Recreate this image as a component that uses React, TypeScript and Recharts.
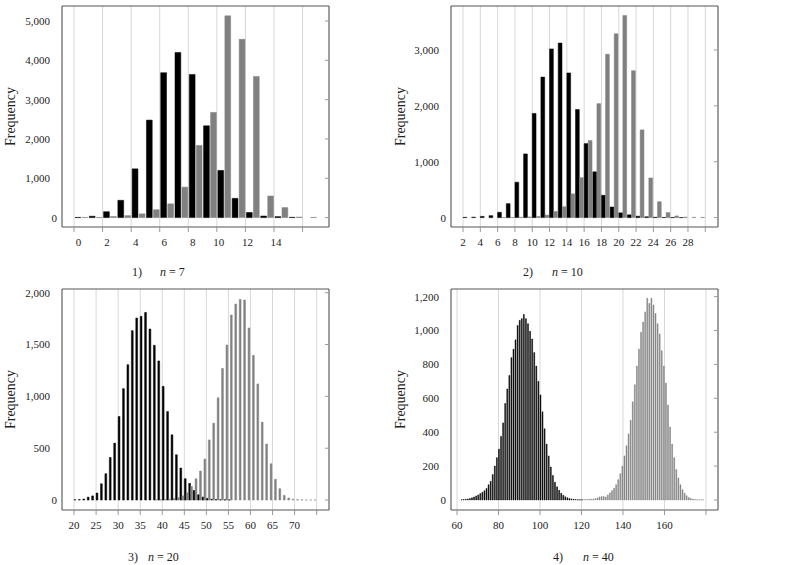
import React from 'react'
import { BarChart, Bar, XAxis, YAxis, CartesianGrid } from 'recharts'

const FONT = '"Liberation Serif", "DejaVu Serif", serif'
const FRAME = '#555'
const GRID = '#d8d8d8'
const INK = '#222'

// 1) n = 7 : frequency per bin, black and gray samples
const black7Start = 0
const black7 = [5, 35, 150, 440, 1240, 2480, 3685, 4200, 3640, 2335, 1200, 490, 130, 40, 25, 8, 0]
const gray7Start = 0
const gray7 = [5, 5, 30, 50, 95, 200, 350, 775, 1835, 2675, 5130, 4535, 3590, 550, 255, 15, 5]
const xTicks7 = [0, 2, 4, 6, 8, 10, 12, 14, 16]
const xLabels7 = [0, 2, 4, 6, 8, 10, 12, 14]
const yTicks7 = [0, 1000, 2000, 3000, 4000, 5000]

// 2) n = 10
const black10Start = 2
const black10 = [5, 8, 22, 35, 95, 250, 635, 1140, 1865, 2515, 3020, 3125, 2590, 1935, 1325, 820, 400, 190, 85, 50, 25, 15, 6, 3, 2, 1]
const gray10Start = 6
const gray10 = [2, 4, 6, 12, 20, 45, 110, 195, 425, 715, 1380, 2040, 2925, 3290, 3620, 2630, 1570, 710, 285, 90, 30, 10, 5, 3]
const xTicks10 = [2, 4, 6, 8, 10, 12, 14, 16, 18, 20, 22, 24, 26, 28, 30]
const xLabels10 = [2, 4, 6, 8, 10, 12, 14, 16, 18, 20, 22, 24, 26, 28]
const yTicks10 = [0, 1000, 2000, 3000]

// 3) n = 20
const black20Start = 20
const black20 = [3, 5, 10, 28, 40, 68, 157, 254, 411, 549, 806, 1075, 1306, 1634, 1756, 1772, 1810, 1650, 1493, 1342, 1097, 854, 629, 437, 309, 206, 161, 93, 51, 29, 16, 8, 5, 3, 2, 1]
const gray20Start = 38
const gray20 = [2, 3, 5, 8, 15, 25, 40, 70, 130, 205, 280, 395, 580, 742, 986, 1270, 1496, 1785, 1891, 1936, 1930, 1660, 1396, 1120, 752, 540, 350, 200, 110, 45, 20, 8, 4, 2, 1, 1, 1]
const xTicks20 = [20, 25, 30, 35, 40, 45, 50, 55, 60, 65, 70, 75]
const xLabels20 = [20, 25, 30, 35, 40, 45, 50, 55, 60, 65, 70]
const yTicks20 = [0, 500, 1000, 1500, 2000]

// 4) n = 40
const black40Start = 62
const black40 = [2, 3, 4, 6, 9, 13, 18, 24, 30, 38, 46, 55, 68, 90, 110, 150, 200, 250, 300, 375, 455, 570, 655, 735, 840, 890, 945, 1030, 1060, 1070, 1095, 1070, 1040, 995, 950, 870, 790, 700, 620, 520, 420, 330, 260, 195, 145, 105, 78, 58, 40, 28, 19, 13, 9, 6, 4, 3, 2, 1, 1]
const gray40Start = 118
const gray40 = [1, 2, 2, 3, 3, 4, 5, 6, 8, 12, 18, 20, 20, 18, 30, 42, 55, 70, 90, 120, 155, 200, 260, 320, 390, 470, 580, 680, 790, 890, 990, 1050, 1110, 1190, 1160, 1190, 1150, 1100, 1040, 980, 880, 790, 690, 560, 430, 330, 250, 180, 130, 90, 60, 40, 25, 15, 9, 5, 3, 2, 1, 1, 1]
const xTicks40 = [60, 80, 100, 120, 140, 160, 180]
const xLabels40 = [60, 80, 100, 120, 140, 160]
const yTicks40 = [0, 200, 400, 600, 800, 1000, 1200]

// one row per bin [b, b+1), placed at the bin centre
function buildRows(blackStart: number, black: number[], grayStart: number, gray: number[]) {
  const lo = Math.min(blackStart, grayStart)
  const hi = Math.max(blackStart + black.length, grayStart + gray.length)
  const rows = []
  for (let b = lo; b < hi; b++) {
    rows.push({
      bin: b + 0.5,
      black: black[b - blackStart] ?? 0,
      gray: gray[b - grayStart] ?? 0,
    })
  }
  return rows
}

const YTick = (props: any) => {
  const { x, y, payload } = props
  const v = payload.value as number
  return (
    <text x={v === 0 ? x - 5 : x - 12} y={y} dy="0.355em" textAnchor="end" fontSize={11} fill={INK} fontFamily={FONT}>
      {v.toLocaleString('en-US')}
    </text>
  )
}

const makeXTick = (labels: number[], shift: (v: number) => number) => (props: any) => {
  const { x, y, payload } = props
  const v = payload.value as number
  if (!labels.includes(v)) return <g />
  return (
    <text x={x + shift(v)} y={y} dy="0.71em" textAnchor="middle" fontSize={11} fill={INK} fontFamily={FONT}>
      {v}
    </text>
  )
}

const noTick = () => <g />

interface PanelProps {
  rows: { bin: number; black: number; gray: number }[]
  left: number
  top: number
  plotTop: number
  yWidth: number
  right: number
  xDomain: [number, number]
  yDomain: [number, number]
  xTicks: number[]
  xLabels: number[]
  yTicks: number[]
  barSize: number
  barGap: number
  shift?: (v: number) => number
}

function Panel(p: PanelProps) {
  const xTick = makeXTick(p.xLabels, p.shift ?? (() => 0))
  // top axis is 1px high and right axis 1px wide, they only draw the frame
  return (
    <div style={{ position: 'absolute', left: p.left, top: p.top }}>
      <BarChart
        width={340}
        height={260}
        data={p.rows}
        margin={{ top: p.plotTop - 1, right: p.right - 1, left: 0, bottom: 260 - p.plotTop - 221 - 28 }}
        barGap={p.barGap}
      >
        <CartesianGrid horizontal={false} stroke={GRID} />
        <XAxis
          dataKey="bin"
          type="number"
          domain={p.xDomain}
          allowDataOverflow
          ticks={p.xTicks}
          interval={0}
          height={28}
          tickSize={5}
          tickMargin={6}
          tickLine={{ stroke: '#999' }}
          axisLine={{ stroke: FRAME }}
          tick={xTick}
        />
        <XAxis
          xAxisId="top"
          orientation="top"
          type="number"
          domain={p.xDomain}
          allowDataOverflow
          ticks={p.xTicks}
          height={1}
          tick={noTick}
          tickLine={false}
          axisLine={{ stroke: FRAME }}
        />
        <YAxis
          type="number"
          domain={p.yDomain}
          allowDataOverflow
          ticks={p.yTicks}
          interval={0}
          width={p.yWidth}
          tickSize={0}
          tickMargin={0}
          tickLine={false}
          axisLine={{ stroke: FRAME }}
          tick={YTick}
          label={{
            value: 'Frequency',
            angle: -90,
            position: 'insideLeft',
            offset: 10,
            style: { textAnchor: 'middle', fontSize: 14, fontFamily: FONT, fill: INK },
          }}
        />
        <YAxis
          yAxisId="right"
          orientation="right"
          type="number"
          domain={p.yDomain}
          allowDataOverflow
          ticks={p.yTicks}
          interval={0}
          width={1}
          mirror
          tickSize={4}
          tick={noTick}
          tickLine={{ stroke: '#999' }}
          axisLine={{ stroke: FRAME }}
        />
        <Bar dataKey="black" fill="#000" stroke="#000" strokeWidth={0.5} barSize={p.barSize} isAnimationActive={false} />
        <Bar dataKey="gray" fill="#808080" stroke="#808080" strokeWidth={0.5} barSize={p.barSize} isAnimationActive={false} />
      </BarChart>
    </div>
  )
}

function Caption({ num, n, left, nLeft, top }: { num: number; n: number; left: number; nLeft: number; top: number }) {
  const style: React.CSSProperties = { position: 'absolute', top, fontSize: 12, lineHeight: '14px', color: INK, whiteSpace: 'nowrap' }
  return (
    <>
      <span style={{ ...style, left }}>{num})</span>
      <span style={{ ...style, left: nLeft }}>
        <i>n</i> = {n}
      </span>
    </>
  )
}

export default function App() {
  return (
    <div style={{ position: 'absolute', left: 0, top: 0, width: 789, height: 565, background: '#fff', fontFamily: FONT }}>
      <Panel
        rows={buildRows(black7Start, black7, gray7Start, gray7)}
        left={0}
        top={0}
        plotTop={6}
        yWidth={62}
        right={12}
        xDomain={[-0.84, 17.85]}
        yDomain={[-239, 5381]}
        xTicks={xTicks7}
        xLabels={xLabels7}
        yTicks={yTicks7}
        barSize={5.8}
        barGap={1.2}
        shift={v => (v < 10 ? 4.5 : 2)}
      />
      <Panel
        rows={buildRows(black10Start, black10, gray10Start, gray10)}
        left={390}
        top={0}
        plotTop={6}
        yWidth={61}
        right={13}
        xDomain={[0.61, 31.47]}
        yDomain={[-168, 3788]}
        xTicks={xTicks10}
        xLabels={xLabels10}
        yTicks={yTicks10}
        barSize={3.8}
        barGap={0.3}
      />
      <Panel
        rows={buildRows(black20Start, black20, gray20Start, gray20)}
        left={0}
        top={280}
        plotTop={9}
        yWidth={62}
        right={12}
        xDomain={[17.27, 77.8]}
        yDomain={[-96, 2036]}
        xTicks={xTicks20}
        xLabels={xLabels20}
        yTicks={yTicks20}
        barSize={1.8}
        barGap={0.2}
      />
      <Panel
        rows={buildRows(black40Start, black40, gray40Start, gray40)}
        left={390}
        top={280}
        plotTop={9}
        yWidth={61}
        right={13}
        xDomain={[57.1, 185.8]}
        yDomain={[-59, 1245]}
        xTicks={xTicks40}
        xLabels={xLabels40}
        yTicks={yTicks40}
        barSize={0.9}
        barGap={0.1}
      />
      <Caption num={1} n={7} left={132} nLeft={160} top={265} />
      <Caption num={2} n={10} left={523} nLeft={552} top={265} />
      <Caption num={3} n={20} left={128} nLeft={148} top={550} />
      <Caption num={4} n={40} left={553} nLeft={583} top={550} />
    </div>
  )
}
